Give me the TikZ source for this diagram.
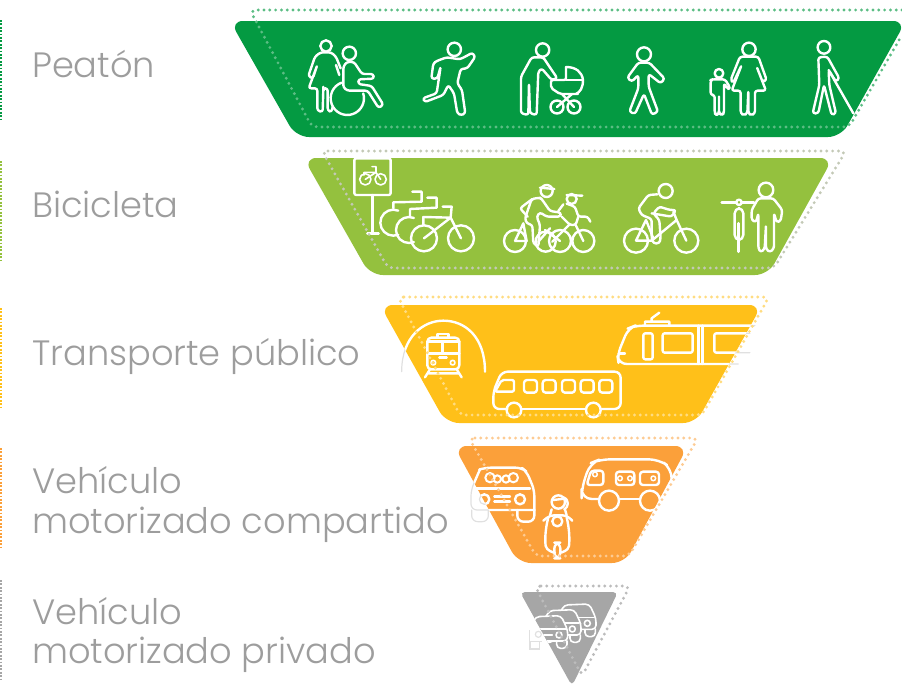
\documentclass[tikz,border=0pt]{standalone}
\usepackage{fontspec}
\setmainfont{Poppins Light}
\definecolor{peatongreen}{HTML}{049A42}
\definecolor{bicilime}{HTML}{94C13E}
\definecolor{publicoyellow}{HTML}{FFC019}
\definecolor{compartidoorange}{HTML}{FBA03A}
\definecolor{privadogrey}{HTML}{A6A6A6}
\definecolor{labelgrey}{HTML}{9D9D9D}
\tikzset{
  band/.style={rounded corners=13pt},
  dots/.style={line width=3.2pt,line cap=round,dash pattern=on 0pt off 5.8pt,rounded corners=6pt},
  stub/.style={line width=2.4pt,dash pattern=on 1.8pt off 1.6pt},
  icon/.style={draw=white,line width=2.4pt,line join=round,line cap=round},
  body/.style={icon,rounded corners=2.5pt},
  ghost/.style={draw=black!12,line width=1.2pt},
  modelabel/.style={anchor=base west,text=labelgrey,font=\fontsize{35.2}{36}\selectfont,inner sep=0pt},
  zoomed/.style={scale=0.3333}
}
\newcommand{\tunnelicon}[1]{\draw[icon,#1] (65,245) .. controls (65,140) and (130,92) .. (190,92) .. controls (255,92) and (315,140) .. (315,245);}
\newcommand{\tramicon}[1]{
  \draw[icon,rounded corners=8pt,#1] (1125,107) -- (765,107) -- (745,115) -- (712,195) -- (716,222) -- (1075,222);
  \draw[icon,rounded corners=2pt,#1] (1110,130) -- (1003,130) -- (1003,188) -- (1110,188);
}
\newcommand{\carleft}[1]{
  \draw[icon,rounded corners=6pt,#1] (75,118) -- (48,180) -- (48,240) -- (238,240);
  \draw[icon,rounded corners=6pt,#1] (50,240) -- (50,275) -- (100,275) -- (100,240);
  \draw[icon,#1] (88,208) circle (15);
}
% one small car of the queue, front view
\newcommand{\queuecar}[2]{
  \begin{scope}[shift={(#1)}]
    \draw[icon,fill=privadogrey,rounded corners=4pt,line width=1.6pt,#2] (3,45) -- (22,5) -- (98,2) -- (118,45) -- (118,78) -- (3,78) -- cycle;
    \draw[icon,line width=1.6pt,#2] (10,42) -- (112,42) (32,60) -- (72,60);
    \draw[icon,line width=1.6pt,#2] (92,60) circle (9);
    \draw[icon,line width=1.6pt,#2] (20,60) circle (9);
    \draw[icon,rounded corners=4pt,line width=1.6pt,#2] (85,78) -- (85,100) -- (116,100) -- (116,78);
    \draw[icon,rounded corners=4pt,line width=1.6pt,#2] (5,78) -- (5,100) -- (36,100) -- (36,78);
  \end{scope}
}
\begin{document}
\begin{tikzpicture}[x=1pt,y=-1pt]
  \useasboundingbox (0,0) rectangle (902,686);

  % bands
  \fill[peatongreen,band] (230,21) -- (906,21) -- (841,137) -- (296,137) -- cycle;
  \fill[bicilime,band] (303.5,158) -- (833,158) -- (768,275) -- (370,275) -- cycle;
  \fill[publicoyellow,band] (380,305) -- (762,305) -- (696,423) -- (446,423) -- cycle;
  \fill[compartidoorange,band] (454,446) -- (688,446) -- (625,563) -- (518,563) -- cycle;
  \fill[privadogrey,rounded corners=5pt] (520,592) -- (618,592) -- (572,686) -- cycle;

  % labels
  \node[modelabel] (peaton) at (32,77) {Peatón};
  \node[modelabel] (bicicleta) at (32,217) {Bicicleta};
  \node[modelabel] (publico) at (32,365) {Transporte público};
  \node[modelabel] (compartidoa) at (32,493) {Vehículo};
  \node[modelabel] (compartidob) at (32,533) {motorizado compartido};
  \node[modelabel] (privadoa) at (32,624) {Vehículo};
  \node[modelabel] (privadob) at (32,663) {motorizado privado};

  % left stubs
  \draw[stub,peatongreen] (1,20) -- (1,119);
  \draw[stub,bicilime] (1,161) -- (1,261);
  \draw[stub,publicoyellow] (1,308) -- (1,407);
  \draw[stub,compartidoorange] (1,448) -- (1,548);
  \draw[stub,privadogrey] (1,580) -- (1,680);

  % peaton icons
  \begin{scope}[shift={(230,0)},zoomed]
    \draw[icon] (288,138) circle (17);
    \draw[body] (332,205) -- (318,170) -- (303,157) -- (272,157) -- (255,170) -- (235,228) -- (248,236) -- (262,195) -- (236,265) -- (262,265) -- (262,332) -- (278,336) -- (280,268) -- (280,265) -- (293,265) -- (293,332) -- (305,336) -- (308,320);
    \draw[icon] (318,195) -- (328,225);
    \draw[icon] (358,160) circle (20);
    \draw[body] (340,250) -- (340,200) -- (350,186) -- (372,186) -- (396,222) -- (430,222) -- (432,236) -- (385,238) -- (385,252) -- (425,258) -- (460,314) -- (446,324) -- (413,272) -- (352,272) -- (340,262) -- cycle;
    \draw[icon] (352,295) ++(250:50) arc (250:-17:50);
    % runner
    \draw[icon] (673,148) circle (20);
    \draw[body] (620,183) -- (650,172) -- (690,178) -- (715,165) -- (727,158) -- (736,170) -- (712,205) -- (692,207) -- (682,250) -- (696,270) -- (706,340) -- (694,346) -- (682,340) -- (672,280) -- (655,255) -- (640,285) -- (585,306) -- (578,295) -- (620,280) -- (632,200) -- (622,236) -- (604,236) -- (610,190) -- cycle;
    % man with stroller
    \draw[icon] (938,150) circle (20);
    \draw[body] (940,172) -- (905,172) -- (873,230) -- (873,340) -- (895,345) -- (897,250) -- (900,340) -- (920,345) -- (925,215) -- (935,205) -- (965,240) -- (982,235) -- (945,180) -- cycle;
  \end{scope}
  \begin{scope}
    \draw[icon,rounded corners=2pt] (566,67) -- (566,80) -- (551,80) -- (551,88) -- (560,94) -- (578,94);
    \draw[icon] (566,67) .. controls (576,67) and (582,72) .. (583,80) .. controls (583,88) and (580,92) .. (576,94);
    \draw[icon] (566,80) -- (583,80);
    \draw[icon] (557,107) circle (6.5);
    \draw[icon] (574,107) circle (6.5);
    \draw[icon] (562,94) -- (574,107) (572,94) -- (557,107);
  \end{scope}
  \begin{scope}[shift={(570,0)},zoomed]
    % walker
    \draw[icon] (222,163) circle (21);
    \draw[body] (205,188) -- (238,188) -- (284,236) -- (272,250) -- (236,222) -- (236,260) -- (264,335) -- (246,344) -- (222,282) -- (195,342) -- (178,335) -- (205,265) -- (205,225) -- (185,245) -- (172,233) -- cycle;
    % woman and child
    \draw[icon] (537,148) circle (20);
    \draw[body] (510,170) -- (565,170) -- (590,240) -- (578,246) -- (560,200) -- (588,272) -- (555,272) -- (555,340) -- (544,346) -- (535,340) -- (535,272) -- (532,340) -- (522,346) -- (512,340) -- (512,272) -- (485,272) -- (515,195) -- (490,248) -- (482,240) -- cycle;
    \draw[icon] (447,220) circle (13);
    \draw[body] (428,238) -- (465,238) -- (480,262) -- (474,268) -- (462,250) -- (462,340) -- (455,345) -- (447,340) -- (447,285) -- (447,340) -- (440,345) -- (434,340) -- (434,285) -- (422,285) -- (422,240) -- cycle;
    % blind man
    \draw[icon] (762,142) circle (19);
    \draw[body] (745,172) -- (772,170) -- (808,235) -- (798,245) -- (776,210) -- (778,255) -- (798,340) -- (785,345) -- (762,255) -- (745,340) -- (728,340) -- (748,255) -- cycle;
    \draw[icon] (776,210) -- (850,340);
  \end{scope}

  % bicicleta icons
  \begin{scope}[shift={(300,145)},zoomed]
    \draw[icon,rounded corners=2pt] (163,40) rectangle (272,150);
    \draw[icon] (218,150) -- (218,265) (202,265) -- (236,265);
    \draw[icon,line width=1.6pt] (196,103) circle (17) (242,103) circle (17);
    \draw[icon,line width=1.6pt] (196,103) -- (228,82) -- (242,103) (228,82) -- (192,82) -- (192,90) (228,82) -- (228,65) -- (216,65);
    % parked bikes
    \draw[icon] (280,233) ++(292:39) arc (292:68:39);
    \draw[icon] (280,190) -- (280,172) -- (365,170) -- (365,140) -- (337,140);
    \draw[icon] (327,255) ++(292:39) arc (292:68:39);
    \draw[icon] (330,213) -- (330,192) -- (410,188) -- (410,158) -- (382,158);
    \draw[icon] (372,280) circle (39) (483,280) circle (39);
    \draw[icon] (372,280) -- (452,218) -- (483,280) (452,218) -- (370,216) -- (370,240) (452,218) -- (455,185) -- (428,185);
  \end{scope}
  \begin{scope}[shift={(495,175)},zoomed]
    % two riders
    \draw[icon] (60,198) circle (33) (195,198) circle (33) (152,200) circle (30) (265,198) circle (33);
    \draw[icon] (155,48) circle (18);
    \draw[icon] (135,38) -- (178,42);
    \draw[body] (112,72) -- (75,100) -- (98,125);
    \draw[body] (135,68) -- (110,72) -- (90,130) -- (95,145) -- (112,150) -- (115,205) -- (130,215) -- (135,150) -- (125,125) -- (135,112) -- (155,125) -- (196,125) -- (198,113) -- (165,108) -- (140,72) -- cycle;
    \draw[icon] (60,198) -- (95,198) -- (85,145) -- (60,198) (150,165) -- (195,198) (130,200) -- (165,160);
    \draw[icon] (230,72) circle (15);
    \draw[icon] (215,60) -- (262,62);
    \draw[body] (205,88) -- (190,108);
    \draw[body] (215,86) -- (240,95) -- (250,125) -- (278,125) -- (286,140);
    \draw[body] (200,125) -- (225,150) -- (242,150) -- (250,125);
    \draw[icon] (242,150) -- (265,198) (222,150) -- (172,200);
  \end{scope}
  \begin{scope}[shift={(570,145)},zoomed]
    % rider
    \draw[icon] (287,138) circle (21);
    \draw[icon] (198,287) circle (36) (349,287) circle (36);
    \draw[body] (262,148) -- (235,150) -- (205,190) -- (215,210) -- (245,222) -- (245,280) -- (250,295) -- (268,295) -- (272,280) -- (268,225) -- (250,205) -- (268,185) -- (300,195) -- (318,195) -- (305,215) -- (245,205);
    \draw[icon] (198,287) -- (245,287) -- (320,225) -- (349,287) (198,287) -- (228,225) -- (250,280) (320,225) -- (310,200);
    % man with bike
    \draw[icon] (588,135) circle (22);
    \draw[body] (565,160) -- (610,160) -- (637,195) -- (632,228) -- (620,232) -- (612,205) -- (612,310) -- (600,322) -- (588,312) -- (588,240) -- (584,312) -- (572,322) -- (565,310) -- (565,205) -- (558,232) -- (545,225) -- (545,195) -- cycle;
    \draw[icon] (455,172) -- (498,172) (516,172) -- (552,172);
    \draw[icon] (507,172) circle (8);
    \draw[icon,rounded corners=5pt] (494,190) rectangle (520,285);
    \draw[icon,line width=3pt] (507,235) -- (507,320);
  \end{scope}

  % transporte publico icons
  \begin{scope}[shift={(380,290)},zoomed]
    \tunnelicon{ghost}
    \tramicon{ghost}
  \end{scope}
  \begin{scope}
    \clip[band] (380,305) -- (762,305) -- (696,423) -- (446,423) -- cycle;
    \begin{scope}[shift={(380,290)},zoomed]
      \tunnelicon{}
      \tramicon{}
    \end{scope}
  \end{scope}
  \begin{scope}[shift={(380,290)},zoomed]
    % train
    \draw[icon,rounded corners=4pt] (142,143) rectangle (238,238);
    \draw[icon] (172,143) -- (172,132) -- (205,132) -- (205,143);
    \draw[icon] (142,155) -- (238,155) (142,190) -- (238,190) (188,155) -- (188,190) (178,203) -- (200,203);
    \draw[icon,line width=1.6pt] (160,218) circle (7) (218,218) circle (7);
    \draw[icon] (150,238) -- (135,262) (230,238) -- (245,262) (146,250) -- (234,250);
    % bus
    \draw[icon,rounded corners=6pt] (382,357) -- (340,357) -- (340,305) -- (365,245) -- (722,245) -- (722,357) -- (662,357);
    \draw[icon] (425,357) -- (618,357);
    \draw[icon] (402,360) circle (22) (640,360) circle (22);
    \foreach \winx in {432,488,546,602,658}
      \draw[icon,rounded corners=3pt] (\winx,270) rectangle ++(39,38);
    \draw[icon,rounded corners=2pt] (345,305) -- (402,305) -- (402,270) -- (365,270) -- cycle;
    % tram
    \draw[icon] (955,107) -- (955,222) (968,107) -- (968,222);
    \draw[icon,rounded corners=2pt] (790,130) rectangle (818,208);
    \draw[icon,rounded corners=2pt] (848,130) rectangle (938,188);
    \draw[icon] (795,105) -- (795,95) -- (868,95) -- (868,105) (815,95) -- (815,85) -- (838,68);
    \draw[icon] (716,190) -- (735,190);
  \end{scope}

  % vehiculo compartido icons
  \begin{scope}[shift={(455,430)},zoomed]
    \carleft{ghost}
  \end{scope}
  \begin{scope}
    \clip[band] (454,446) -- (688,446) -- (625,563) -- (518,563) -- cycle;
    \begin{scope}[shift={(455,430)},zoomed]
      \carleft{}
    \end{scope}
  \end{scope}
  \begin{scope}[shift={(455,430)},zoomed]
    % car
    \draw[icon,rounded corners=6pt] (75,118) -- (90,113) -- (200,113) -- (215,125) -- (238,180) -- (238,240);
    \draw[icon,rounded corners=6pt] (187,240) -- (187,275) -- (238,275) -- (238,240);
    \draw[icon] (60,175) -- (225,175) (118,200) -- (165,200) (118,215) -- (165,215);
    \draw[icon] (195,208) circle (15);
    \draw[icon,line width=2pt] (105,143) circle (14) (127,147) circle (11) (175,143) circle (14) (153,147) circle (11);
    % scooter
    \draw[icon] (310,216) circle (20);
    \draw[icon] (295,210) -- (328,206) (325,202) .. controls (345,210) and (340,232) .. (328,238);
    \draw[icon,rounded corners=4pt] (265,272) -- (285,256) -- (335,256) -- (352,272);
    \draw[icon] (290,238) -- (285,256) (330,238) -- (335,256);
    \draw[icon] (307,274) circle (15);
    \draw[icon] (280,262) .. controls (270,300) and (270,330) .. (272,348) .. controls (275,362) and (295,368) .. (300,368) (335,262) .. controls (344,300) and (344,330) .. (342,348) .. controls (340,362) and (320,368) .. (315,368);
    \draw[icon,rounded corners=6pt] (298,338) rectangle (316,385);
    % van
    \draw[icon,rounded corners=10pt] (432,207) -- (380,207) -- (380,175) -- (405,100) -- (435,88) -- (612,88) -- (650,115) -- (650,207) -- (615,207);
    \draw[icon] (492,207) -- (555,207);
    \draw[icon] (462,212) circle (30) (585,212) circle (30);
    \draw[icon,rounded corners=3pt] (395,165) -- (445,165) -- (445,122) -- (408,122) -- cycle;
    \draw[icon,rounded corners=3pt] (483,125) rectangle (538,165);
    \draw[icon,rounded corners=3pt] (555,125) rectangle (612,165);
    \draw[icon,line width=1.5pt] (420,133) circle (7) (495,145) circle (7) (525,145) circle (7) (595,145) circle (7);
  \end{scope}

  % vehiculo privado icons
  \begin{scope}[shift={(510,575)},zoomed]
    \draw[ghost] (58,165) -- (58,200) -- (95,200) (60,200) -- (60,222) -- (88,222) -- (88,200);
    \draw[ghost] (85,178) circle (9);
  \end{scope}
  \begin{scope}
    \clip[rounded corners=5pt] (520,592) -- (618,592) -- (572,686) -- cycle;
    \begin{scope}[shift={(510,575)},zoomed]
      \queuecar{140,85}{}
      \queuecar{95,102}{}
      \queuecar{55,120}{}
    \end{scope}
  \end{scope}

  % dotted offset outlines
  \draw[dots,peatongreen!65!white] (902,10) -- (250,10) -- (312,127) -- (849,127) -- (902,35);
  \draw[dots,bicilime!45!black!32!white] (322,151) -- (846,151) -- (774,268) -- (388,268) -- cycle;
  \draw[dots,publicoyellow!55!white] (398,297) -- (769,297) -- (702,415) -- (460,415) -- cycle;
  \draw[dots,compartidoorange!55!white] (469,438) -- (698,438) -- (629,556) -- (536,556) -- cycle;
  \draw[dots,privadogrey!75!white] (535,586) -- (630,586) -- (582,676) -- cycle;
\end{tikzpicture}
\end{document}
